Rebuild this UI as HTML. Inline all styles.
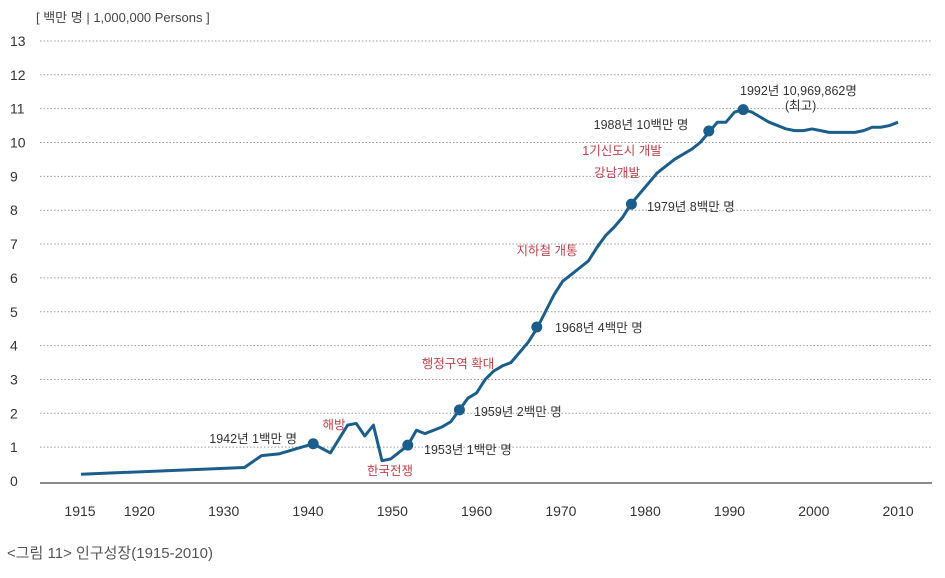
<!DOCTYPE html>
<html><head><meta charset="utf-8"><style>
body{margin:0;background:#fff;width:945px;height:573px;overflow:hidden;font-family:"Liberation Sans","Noto Sans CJK KR",sans-serif}
svg text{font-family:"Liberation Sans","Noto Sans CJK KR",sans-serif}
</style></head><body>
<svg id="chart" width="945" height="573" xmlns="http://www.w3.org/2000/svg">
<text x="36" y="22" font-size="13" fill="#444">[ 백만 명 | 1,000,000 Persons ]</text>
<text x="7" y="558" font-size="15" fill="#555">&lt;그림 11&gt; 인구성장(1915-2010)</text>
<g id="grid"></g><g id="marks"></g><g id="notes"></g>
</svg>
<script>
const years=[1915,1934,1936,1938,1940,1942,1944,1946,1947,1948,1949,1950,1951,1952,1953,1954,1955,1956,1957,1958,1959,1960,1961,1962,1963,1964,1965,1966,1967,1968,1969,1970,1971,1972,1973,1974,1975,1976,1977,1978,1979,1980,1981,1982,1983,1984,1985,1986,1987,1988,1989,1990,1991,1992,1993,1994,1995,1996,1997,1998,1999,2000,2001,2002,2003,2004,2005,2006,2007,2008,2009,2010];
const population=[0.2,0.4,0.75,0.8,0.95,1.1,0.83,1.65,1.7,1.33,1.65,0.6,0.65,0.85,1.05,1.5,1.4,1.5,1.6,1.75,2.1,2.45,2.6,3.0,3.25,3.4,3.5,3.8,4.1,4.5,5.0,5.5,5.9,6.1,6.3,6.5,6.9,7.25,7.5,7.8,8.2,8.5,8.8,9.1,9.3,9.5,9.65,9.8,10.0,10.3,10.6,10.6,10.9,10.97,10.9,10.75,10.6,10.5,10.4,10.35,10.35,10.4,10.35,10.3,10.3,10.3,10.3,10.35,10.45,10.45,10.5,10.6];
const milestoneYears=[1942,1953,1959,1968,1979,1988,1992];
const milestoneValues=[1.1,1.06,2.1,4.55,8.18,10.34,10.97];
const yTicks=[0,1,2,3,4,5,6,7,8,9,10,11,12,13];
const xTicks=[1915,1920,1930,1940,1950,1960,1970,1980,1990,2000,2010];
const NS="http://www.w3.org/2000/svg";
const x=v=>81+(v-1915)*8.6;
const y=v=>481-v*33.85;
function mk(t,a,p){const e=document.createElementNS(NS,t);for(const k in a)e.setAttribute(k,a[k]);p.appendChild(e);return e;}
const grid=document.getElementById('grid'),marks=document.getElementById('marks'),notes=document.getElementById('notes');
yTicks.forEach(t=>{
  if(t>0){const l=mk('line',{x1:40,x2:932,y1:y(t),y2:y(t),stroke:'#999','stroke-width':1,'stroke-dasharray':'1.5 2'},grid);
  
  }
  const tx=mk('text',{x:10,y:y(t)+5,'font-size':14,fill:'#333'},grid);tx.textContent=t;
  
  
});
const base=mk('line',{x1:40,x2:932,y1:483,y2:483,stroke:'#888','stroke-width':2},grid);


xTicks.forEach(t=>{
  const tx=mk('text',{x:t===1915?80:x(t)+12-(t-1940)*0.17,y:516,'font-size':14,fill:'#333','text-anchor':'middle'},grid);tx.textContent=t;
  
  
});
const path=mk('polyline',{points:years.map((v,i)=>x(v)+','+y(population[i])).join(' '),fill:'none',stroke:'#1b5e8c','stroke-width':3,'stroke-linejoin':'round'},marks);


milestoneYears.forEach((v,i)=>{
  const c=mk('circle',{cx:x(v),cy:y(milestoneValues[i]),r:5.5,fill:'#1b5e8c'},marks);
  
  
});
const labels=[["1942년 1백만 명",297,443,'end','#333'],["해방",334,429,'middle','#c0404a'],["한국전쟁",390,475,'middle','#c0404a'],["1953년 1백만 명",424,454,'start','#333'],["1959년 2백만 명",474,416,'start','#333'],["행정구역 확대",458,368,'middle','#c0404a'],["1968년 4백만 명",555,332,'start','#333'],["지하철 개통",547,255,'middle','#c0404a'],["1979년 8백만 명",647,211,'start','#333'],["1기신도시 개발",622,155,'middle','#c0404a'],["강남개발",617,177,'middle','#c0404a'],["1988년 10백만 명",641,129,'middle','#333'],["1992년 10,969,862명",740,95,'start','#333'],["(최고)",785,110,'start','#333']];
labels.forEach(l=>{
  const t=mk('text',{x:l[1],y:l[2],'font-size':12.5,fill:l[4],'text-anchor':l[3]},notes);t.textContent=l[0];
  
  
});
</script>
</body></html>
